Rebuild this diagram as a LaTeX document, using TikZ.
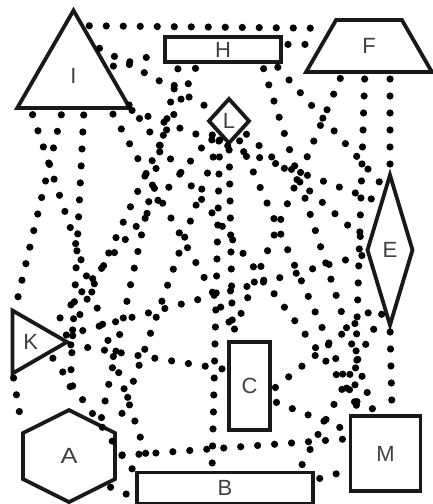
\documentclass[tikz,border=0pt]{standalone}
\usepackage{fontspec}
\setmainfont{Liberation Sans}
\usetikzlibrary{shapes.geometric}

\begin{document}
\begin{tikzpicture}[x=1pt,y=-1pt,
  shapeline/.style={draw=black!90,line width=3.8pt,inner sep=0pt,outer sep=0pt,text=black!75,font=\fontsize{22}{22}\selectfont},
  box/.style={shapeline,rectangle},
  dotline/.style={line width=7.2pt,line cap=round,dash pattern=on 0pt off 17pt,shorten <=7pt,shorten >=7pt}]
\useasboundingbox (0,0) rectangle (433,504);
\node[shapeline,regular polygon,regular polygon sides=3,minimum size=130pt] (I) at (73.5,75.5) {I};
\node[box,minimum width=116pt,minimum height=25pt] (H) at (223,49.5) {H};
\node[shapeline,trapezium,trapezium stretches=true,trapezium left angle=68,trapezium right angle=68,minimum width=126pt,minimum height=52pt] (F) at (369,46) {F};
\node[shapeline,diamond,minimum width=40pt,minimum height=44pt] (L) at (229,121) {L};
\node[shapeline,diamond,minimum width=45pt,minimum height=150pt] (E) at (390,250) {E};
\node[shapeline,regular polygon,regular polygon sides=3,shape border rotate=-90,minimum size=72.8pt] (K) at (30.6,342) {K};
\node[shapeline,regular polygon,regular polygon sides=6,shape border rotate=30,minimum size=92pt,xscale=1.155,transform shape] (A) at (69,456) {A};
\node[box,minimum width=176pt,minimum height=31pt] (B) at (225,488) {B};
\node[box,minimum width=41pt,minimum height=88pt] (C) at (249.5,386) {C};
\node[box,minimum width=70pt,minimum height=75pt] (M) at (385.5,453.5) {M};
\foreach \a/\b in {I.80/F.155, H.5/F.178, I.13/H.183, I.57/L.144, I.252/K.118,
  I.217/B.168, I.288/A.90, I.318/C.102, I.328/E.100, I.335/M.115,
  K.238/A.150, A.-43/B.187, L.233/B.130, L.south/C.111, L.-35/E.165,
  L.-60/M.123, L.215/K.30, L.240/A.30, H.207/K.0, H.196/A.49,
  H.342/M.106, H.346/E.94, F.-51/E.north, F.261/M.130, F.225/C.north west,
  E.south/M.80, E.190/K.10, E.265/B.12, C.-16/E.262, C.-34/M.148,
  A.0/M.157, K.-3/C.142, K.-30/B.172, B.5/M.205}
  \draw[dotline] (\a) -- (\b);
\end{tikzpicture}
\end{document}
